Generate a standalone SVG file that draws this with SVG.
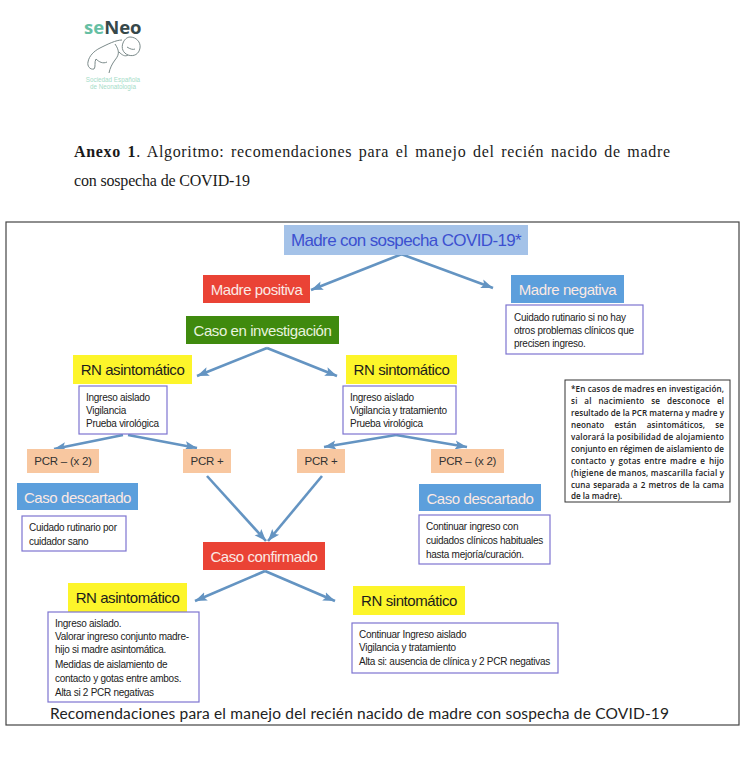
<svg xmlns="http://www.w3.org/2000/svg" width="746" height="770" viewBox="0 0 746 770">
<style>
text{font-family:"Liberation Sans",Arial,sans-serif}
.h{font-size:15px;text-anchor:middle;letter-spacing:-.42px}
.w{fill:#fbe9e4}
.k{fill:#1c1c1c}
.s{font-size:10px;fill:#222;letter-spacing:-.27px}
.p{font-size:11.5px;fill:#333;text-anchor:middle;letter-spacing:-.25px}
.b{fill:#fff;stroke:#7d74d0;stroke-width:1.2}
.red{fill:#ea4335}.blue{fill:#5c9fdc}.yel{fill:#fdf52a}.pcr{fill:#f8c7a0}
.n{font-family:"Open Sans",sans-serif;font-size:8.1px;font-weight:600;fill:#222}
.t{font-family:"Liberation Serif",serif;font-size:16px;fill:#1a1a1a}
.c{stroke:#6494c2;stroke-width:2.6;fill:none;marker-end:url(#a)}
</style>
<defs>
<marker id="a" markerUnits="userSpaceOnUse" markerWidth="14" markerHeight="12" refX="12" refY="6" orient="auto"><path d="M0 1.500L12 6L0 10.500L2.500 6Z" fill="#6494c2"/></marker>
</defs>
<rect width="746" height="770" fill="#fff"/>
<g id="logo">
<text x="84" y="34" font-size="18.500" font-weight="700" style="font-family:'Open Sans',sans-serif" fill="#66bfa4">se<tspan fill="#36484a">Neo</tspan></text>
<path d="M122 40C116 40 108 44 100 48C94 51 89 56 88 62C87 66 90 70 94 69C96 67 94 62 96 59C99 62 103 64 107 62M115 44C119 50 120 54 115 60C112 64 110 68 109 73M119 52C122 55 125 57 128 55" fill="none" stroke="#7b8a8a" stroke-width="1"/>
<path d="M130 37C136 37 141 42 140 48C139 54 134 57 128 55C123 53 121 48 123 43C124 40 127 37 130 37ZM127 47C130 49 133 50 135 49" fill="none" stroke="#7b8a8a" stroke-width="1"/>
<text x="113" y="82" font-size="6.300" text-anchor="middle" fill="#a5dcc8">Sociedad Española</text>
<text x="113" y="89" font-size="6.300" text-anchor="middle" fill="#a5dcc8">de Neonatología</text>
</g>
<g id="titulo">
<text class="t" x="74" y="157" word-spacing="2px" textLength="596"><tspan font-weight="700">Anexo 1</tspan>. Algoritmo: recomendaciones para el manejo del recién nacido de madre</text>
<text class="t" x="74" y="186" textLength="176">con sospecha de COVID-19</text>
</g>
<rect id="marco" x="6" y="222" width="733" height="503" fill="#fff" stroke="#444" stroke-width="1.2"/>
<g id="connectors">
<path class="c" d="M402 254L311 290"/>
<path class="c" d="M401 254L493 288"/>
<path class="c" d="M267 348L197 376"/>
<path class="c" d="M267 348L337 376"/>
<path class="c" d="M123 435L54 449"/>
<path class="c" d="M128 435L197 448"/>
<path class="c" d="M396 435L324 447"/>
<path class="c" d="M396 435L467 447"/>
<path class="c" d="M207 476L266 541"/>
<path class="c" d="M322 476L268 541"/>
<path class="c" d="M265 571L195 601"/>
<path class="c" d="M265 571L335 601"/>
</g>
<g id="madre-sospecha"><rect x="284" y="225" width="244" height="30" fill="#a4c2e8"/><text x="406" y="246" font-size="17" letter-spacing="-.62" text-anchor="middle" fill="#3c50d0">Madre con sospecha COVID-19*</text></g>
<g id="madre-positiva"><rect class="red" x="203" y="275" width="107" height="28"/><text class="h w" x="256.500" y="295">Madre positiva</text></g>
<g id="madre-negativa"><rect class="blue" x="511" y="275" width="113" height="28"/><text class="h w" x="567.500" y="295">Madre negativa</text></g>
<g id="nota-negativa"><rect class="b" x="506" y="305" width="137" height="49"/><text class="s" x="514" y="321">Cuidado rutinario si no hay</text><text class="s" x="514" y="334">otros problemas clínicos que</text><text class="s" x="514" y="347">precisen ingreso.</text></g>
<g id="caso-investigacion"><rect x="186" y="316" width="153" height="28" fill="#3f8a0e"/><text class="h" x="262.500" y="336" fill="#e8f3df">Caso en investigación</text></g>
<g id="rn-asintomatico-1"><rect class="yel" x="73" y="355" width="119" height="29"/><text class="h k" x="132.500" y="375">RN asintomático</text></g>
<g id="rn-sintomatico-1"><rect class="yel" x="346" y="355" width="111" height="29"/><text class="h k" x="401.500" y="375">RN sintomático</text></g>
<g id="nota-asintomatico-1"><rect class="b" x="79" y="386" width="88" height="48"/><text class="s" x="86" y="401">Ingreso aislado</text><text class="s" x="86" y="414">Vigilancia</text><text class="s" x="86" y="427">Prueba virológica</text></g>
<g id="nota-sintomatico-1"><rect class="b" x="343" y="386" width="113" height="48"/><text class="s" x="350" y="401">Ingreso aislado</text><text class="s" x="350" y="414">Vigilancia y tratamiento</text><text class="s" x="350" y="427">Prueba virológica</text></g>
<g id="pcr-neg-1"><rect class="pcr" x="27" y="449" width="72" height="24"/><text class="p" x="63" y="465">PCR – (x 2)</text></g>
<g id="pcr-pos-1"><rect class="pcr" x="183" y="449" width="48" height="24"/><text class="p" x="207" y="465">PCR +</text></g>
<g id="pcr-pos-2"><rect class="pcr" x="297" y="449" width="48" height="24"/><text class="p" x="321" y="465">PCR +</text></g>
<g id="pcr-neg-2"><rect class="pcr" x="431" y="449" width="73" height="24"/><text class="p" x="467.500" y="465">PCR – (x 2)</text></g>
<g id="caso-descartado-1"><rect class="blue" x="17" y="483" width="121" height="27"/><text class="h w" x="77.500" y="503">Caso descartado</text></g>
<g id="nota-descartado-1"><rect class="b" x="22" y="516" width="104" height="35"/><text class="s" x="29" y="531">Cuidado rutinario por</text><text class="s" x="29" y="545">cuidador sano</text></g>
<g id="caso-descartado-2"><rect class="blue" x="419" y="484" width="122" height="27"/><text class="h w" x="480" y="504">Caso descartado</text></g>
<g id="nota-descartado-2"><rect class="b" x="419" y="515" width="131" height="49"/><text class="s" x="426" y="530">Continuar ingreso con</text><text class="s" x="426" y="544">cuidados clínicos habituales</text><text class="s" x="426" y="558">hasta mejoría/curación.</text></g>
<g id="caso-confirmado"><rect class="red" x="203" y="542" width="122" height="28"/><text class="h w" x="264" y="562">Caso confirmado</text></g>
<g id="rn-asintomatico-2"><rect class="yel" x="68" y="583" width="119" height="29"/><text class="h k" x="127.500" y="603">RN asintomático</text></g>
<g id="rn-sintomatico-2"><rect class="yel" x="353" y="586" width="112" height="29"/><text class="h k" x="409" y="606">RN sintomático</text></g>
<g id="nota-asintomatico-2"><rect class="b" x="48" y="612" width="151" height="90"/><text class="s" x="55" y="627">Ingreso aislado.</text><text class="s" x="55" y="640">Valorar ingreso conjunto madre-</text><text class="s" x="55" y="653">hijo si madre asintomática.</text><text class="s" x="55" y="668">Medidas de aislamiento de</text><text class="s" x="55" y="682">contacto y gotas entre ambos.</text><text class="s" x="55" y="696">Alta si 2 PCR negativas</text></g>
<g id="nota-sintomatico-2"><rect class="b" x="352" y="623" width="206" height="50"/><text class="s" x="359" y="638">Continuar Ingreso aislado</text><text class="s" x="359" y="651">Vigilancia y tratamiento</text><text class="s" x="359" y="665">Alta si: ausencia de clínica y 2 PCR negativas</text></g>
<g id="nota-madres"><rect x="565" y="380" width="165" height="122" fill="#fff" stroke="#333" stroke-width="1"/>
<text class="n" x="571" y="392" textLength="153">*En casos de madres en investigación,</text>
<text class="n" x="571" y="404" word-spacing="4.5" textLength="153">si al nacimiento se desconoce el</text>
<text class="n" x="571" y="416" textLength="153">resultado de la PCR materna y madre y</text>
<text class="n" x="571" y="428" word-spacing="8" textLength="153">neonato están asintomáticos, se</text>
<text class="n" x="571" y="440" textLength="153">valorará la posibilidad de alojamiento</text>
<text class="n" x="571" y="452" textLength="153">conjunto en régimen de aislamiento de</text>
<text class="n" x="571" y="464" word-spacing="1.500" textLength="153">contacto y gotas entre madre e hijo</text>
<text class="n" x="571" y="476" textLength="153">(higiene de manos, mascarilla facial y</text>
<text class="n" x="571" y="488" word-spacing="1" textLength="153">cuna separada a 2 metros de la cama</text>
<text class="n" x="571" y="499">de la madre).</text></g>
<text id="pie" x="50" y="719" font-size="15.500" style="font-family:Lato,sans-serif" fill="#222" textLength="619">Recomendaciones para el manejo del recién nacido de madre con sospecha de COVID-19</text>
</svg>
